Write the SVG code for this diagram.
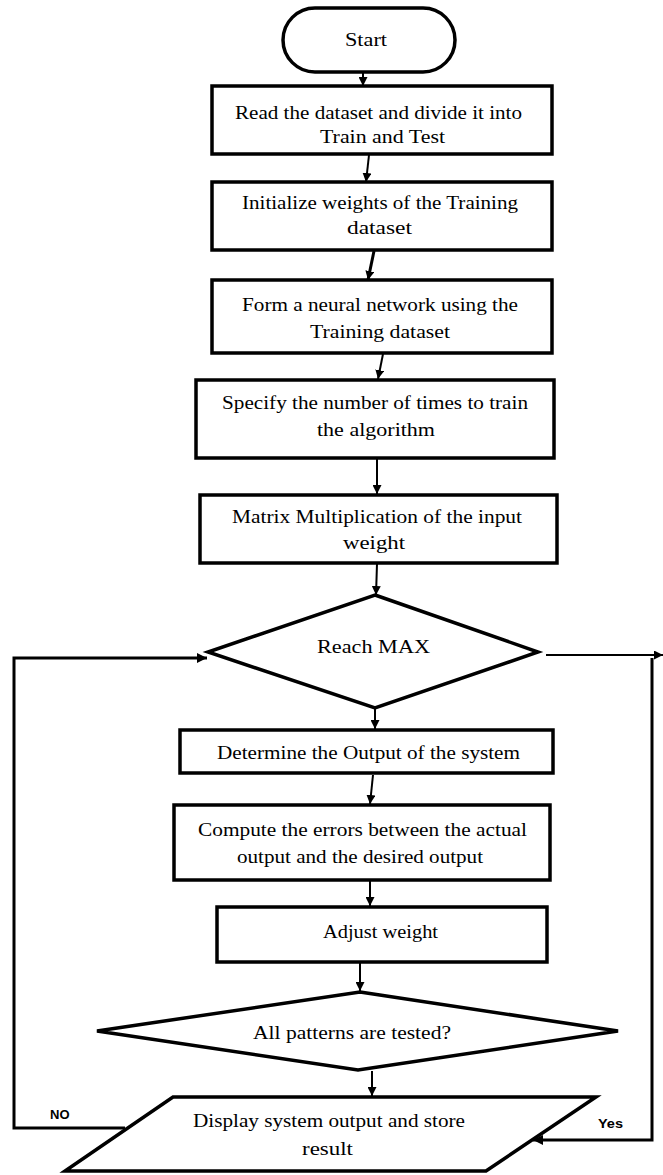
<svg xmlns="http://www.w3.org/2000/svg" width="663" height="1175" viewBox="0 0 663 1175">
<style>
.n{fill:#fff;stroke:#000;stroke-width:3.5}
.t{font-family:"Liberation Serif","Times New Roman",serif;font-size:18px;fill:#000;text-anchor:middle}
.l{font-family:"Liberation Sans",Arial,sans-serif;font-size:13px;font-weight:bold;fill:#000}
.c{fill:none;stroke:#000;stroke-width:2}
.ct{fill:none;stroke:#000;stroke-width:3}
</style>
<defs>
<marker id="ah" viewBox="0 0 10 10" refX="10" refY="5" markerWidth="9" markerHeight="9" markerUnits="userSpaceOnUse" orient="auto">
<path d="M0,0 L10,5 L0,10 Z" fill="#000"/>
</marker>
<marker id="ahb" viewBox="0 0 10 10" refX="10" refY="5" markerWidth="10" markerHeight="10" markerUnits="userSpaceOnUse" orient="auto">
<path d="M0,0 L10,5 L0,10 Z" fill="#000"/>
</marker>
</defs>
<rect width="663" height="1175" fill="#fff"/>
<g id="connectors">
<line class="c" x1="363" y1="72" x2="363" y2="86" marker-end="url(#ah)"/>
<line class="c" x1="369" y1="155" x2="366" y2="182" marker-end="url(#ah)"/>
<line class="ct" x1="374" y1="251" x2="368" y2="280" marker-end="url(#ah)"/>
<line class="c" x1="383" y1="354" x2="378" y2="379" marker-end="url(#ah)"/>
<line class="c" x1="377" y1="459" x2="377" y2="494" marker-end="url(#ah)"/>
<line class="c" x1="377" y1="564" x2="376" y2="595" marker-end="url(#ah)"/>
<line class="c" x1="375" y1="709" x2="375" y2="729" marker-end="url(#ah)"/>
<line class="c" x1="373" y1="775" x2="370" y2="804" marker-end="url(#ah)"/>
<line class="c" x1="370" y1="881" x2="370" y2="906" marker-end="url(#ah)"/>
<line class="c" x1="360" y1="963" x2="360" y2="991" marker-end="url(#ah)"/>
<line class="c" x1="372" y1="1071" x2="372" y2="1096" marker-end="url(#ah)"/>
<polyline class="ct" points="125,1128 14,1128 14,658 207,658" marker-end="url(#ahb)"/>
<line class="c" x1="546" y1="655" x2="663" y2="655" stroke-width="1.5" marker-end="url(#ah)"/>
<polyline class="ct" points="652,658 652,1140 533,1140" marker-end="url(#ahb)"/>
<text class="l" x="50" y="1119">NO</text>
<text class="l" x="598" y="1128" textLength="25" lengthAdjust="spacingAndGlyphs">Yes</text>
</g>
<g id="start">
<rect class="n" x="283" y="8" width="172" height="64" rx="32" ry="32"/>
<text class="t" x="366" y="46" textLength="42" lengthAdjust="spacingAndGlyphs">Start</text>
</g>
<g id="read">
<rect class="n" x="212" y="86" width="340" height="68"/>
<text class="t" x="378.5" y="119" textLength="287" lengthAdjust="spacingAndGlyphs">Read the dataset and divide it into</text>
<text class="t" x="382.5" y="143" textLength="125" lengthAdjust="spacingAndGlyphs">Train and Test</text>
</g>
<g id="init">
<rect class="n" x="212" y="182" width="340" height="68"/>
<text class="t" x="380" y="209" textLength="276" lengthAdjust="spacingAndGlyphs">Initialize weights of the Training</text>
<text class="t" x="379.5" y="234" textLength="65" lengthAdjust="spacingAndGlyphs">dataset</text>
</g>
<g id="form">
<rect class="n" x="212" y="280" width="340" height="73"/>
<text class="t" x="380" y="311" textLength="276" lengthAdjust="spacingAndGlyphs">Form a neural network using the</text>
<text class="t" x="380" y="338" textLength="140" lengthAdjust="spacingAndGlyphs">Training dataset</text>
</g>
<g id="specify">
<rect class="n" x="196" y="380" width="358" height="78"/>
<text class="t" x="375" y="409" textLength="306" lengthAdjust="spacingAndGlyphs">Specify the number of times to train</text>
<text class="t" x="376" y="436" textLength="118" lengthAdjust="spacingAndGlyphs">the algorithm</text>
</g>
<g id="matrix">
<rect class="n" x="200" y="495" width="357" height="68"/>
<text class="t" x="377" y="523" textLength="290" lengthAdjust="spacingAndGlyphs">Matrix Multiplication of the input</text>
<text class="t" x="374" y="549" textLength="62" lengthAdjust="spacingAndGlyphs">weight</text>
</g>
<g id="reachmax">
<polygon class="n" points="375,595 538,652 375,708 208,652"/>
<text class="t" x="373.5" y="653" textLength="113" lengthAdjust="spacingAndGlyphs">Reach MAX</text>
</g>
<g id="determine">
<rect class="n" x="180" y="730" width="373" height="43"/>
<text class="t" x="368.5" y="759" textLength="303" lengthAdjust="spacingAndGlyphs">Determine the Output of the system</text>
</g>
<g id="compute">
<rect class="n" x="174" y="805" width="376" height="75"/>
<text class="t" x="362.5" y="836" textLength="329" lengthAdjust="spacingAndGlyphs">Compute the errors between the actual</text>
<text class="t" x="360" y="863" textLength="246" lengthAdjust="spacingAndGlyphs">output and the desired output</text>
</g>
<g id="adjust">
<rect class="n" x="217" y="907" width="330" height="55"/>
<text class="t" x="380.5" y="938" textLength="115" lengthAdjust="spacingAndGlyphs">Adjust weight</text>
</g>
<g id="alltested">
<polygon class="n" points="360,992 618,1031 358,1070 97,1031"/>
<text class="t" x="352" y="1039" textLength="198" lengthAdjust="spacingAndGlyphs">All patterns are tested?</text>
</g>
<g id="display">
<polygon class="n" points="173,1097 596,1097 486,1171 65,1171"/>
<text class="t" x="329" y="1127" textLength="272" lengthAdjust="spacingAndGlyphs">Display system output and store</text>
<text class="t" x="327.5" y="1155" textLength="51" lengthAdjust="spacingAndGlyphs">result</text>
</g>
</svg>
